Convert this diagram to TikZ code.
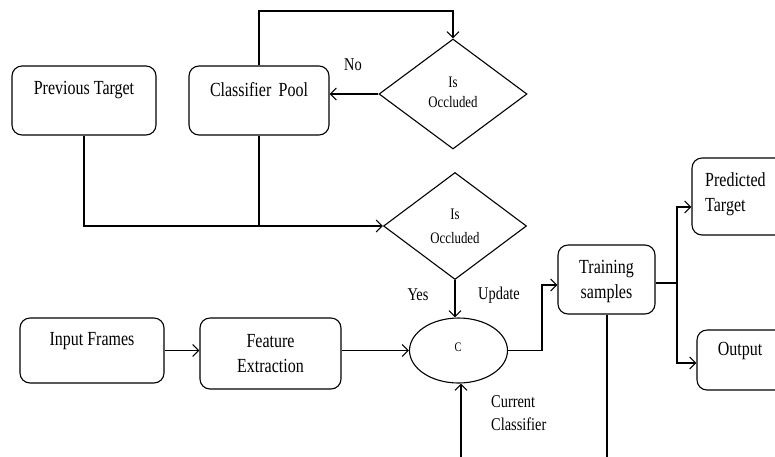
\documentclass[tikz,border=0pt]{standalone}
\usepackage{fontspec}
\setmainfont{Liberation Serif}[FakeStretch=0.8]
\usetikzlibrary{shapes.geometric,arrows.meta}
\tikzset{
  box/.style={draw, rounded corners=10pt, line width=1.1pt, inner sep=0pt},
  dia/.style={draw, diamond, line width=1.1pt, inner sep=0pt},
  ell/.style={draw, ellipse, line width=1.1pt, inner sep=0pt},
  txt/.style={inner sep=0pt, align=center, font=\fontsize{20}{25}\selectfont},
  stxt/.style={inner sep=0pt, align=center},
  lbl/.style={inner sep=0pt, align=left, font=\fontsize{18}{23}\selectfont},
  ln/.style={line width=1.1pt},
  arr/.style={line width=1.1pt, -{Straight Barb[length=6pt,width=12pt,line width=1.1pt]}},
}
\begin{document}
\begin{tikzpicture}[x=1pt,y=-1pt]
\useasboundingbox (0,0) rectangle (775,456);
% boxes
\node[box, minimum width=144pt, minimum height=69pt] (prev) at (84,100.5) {};
\node[box, minimum width=140pt, minimum height=69pt] (pool) at (259,100.5) {};
\node[dia, minimum width=148pt, minimum height=110pt] (d1) at (453,94) {};
\node[dia, minimum width=143pt, minimum height=107pt] (d2) at (455,226) {};
\node[ell, minimum width=98pt, minimum height=65pt] (ell) at (458.5,350.5) {};
\node[box, minimum width=144pt, minimum height=65pt] (inp) at (92,350.5) {};
\node[box, minimum width=141pt, minimum height=71pt] (feat) at (270.5,353.5) {};
\node[box, minimum width=97pt, minimum height=69pt] (train) at (606.5,279.5) {};
\node[box, minimum width=96pt, minimum height=77pt] (pred) at (740,196.5) {};
\node[box, minimum width=96pt, minimum height=60pt] (out) at (745,360) {};
% texts
\node[txt] (tprev) at (84,90) {Previous Target};
\node[txt] (tpool) at (259,90) {Classifier\, Pool};
\node[stxt, font=\fontsize{16}{20}\selectfont] (td1) at (453,92) {Is\\Occluded};
\node[stxt, font=\fontsize{16}{24}\selectfont] (td2) at (455,226) {Is\\Occluded};
\node[stxt, font=\fontsize{13}{15}\selectfont] (tc) at (458,347) {C};
\node[txt] (tinp) at (92,341) {Input Frames};
\node[txt] (tfeat) at (270.5,353.5) {Feature\\Extraction};
\node[txt] (ttrain) at (606.5,281) {Training\\samples};
\node[txt, align=left, anchor=west] (tpred) at (705,194) {Predicted\\Target};
\node[txt] (tout) at (740,351) {Output};
\node[lbl] (lno) at (353,65) {No};
\node[lbl] (lyes) at (418,295) {Yes};
\node[lbl] (lupd) at (499,295) {Update};
\node[lbl, anchor=west] (lcur) at (491,413) {Current\\Classifier};
% coordinates
\coordinate (top) at (0,11);
\coordinate (elb) at (542,0);
\coordinate (branch) at (677,0);
\coordinate (cc) at (461,470);
\coordinate (tb) at (607,470);
% connectors
\draw[arr] (pool.north) -- (pool.north |- top) -| (d1.north);
\draw[arr] (d1.west) -- (d1.west -| pool.east);
\draw[arr] (prev.south) |- (d2.west);
\draw[ln] (pool.south) -- (pool.south |- d2.west);
\draw[arr] (d2.south) -- (d2.south |- ell.north);
\draw[arr] (inp.east) -- (inp.east -| feat.west);
\draw[arr] (feat.east |- ell.west) -- (ell.west);
\draw[arr] (ell.east) -- (ell.east -| elb) |- ([yshift=-5.5pt]train.west);
\draw[ln] ([yshift=-3.5pt]train.east) -- ([yshift=-3.5pt]train.east -| branch);
\draw[arr] ([yshift=-3.5pt]train.east -| branch) |- ([yshift=-10.5pt]pred.west);
\draw[arr] ([yshift=-3.5pt]train.east -| branch) |- ([yshift=-3pt]out.west);
\draw[ln] (train.south -| tb) -- (tb);
\draw[arr] (cc) -- (cc |- ell.south);
\end{tikzpicture}
\end{document}
